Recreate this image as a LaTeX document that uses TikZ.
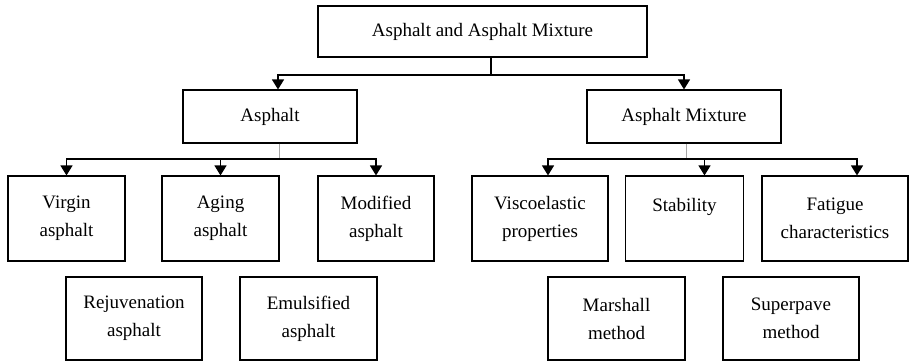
\documentclass[tikz,border=0pt]{standalone}
\usepackage{fontspec}
\setmainfont{Liberation Serif}
\usetikzlibrary{arrows.meta,positioning}
\tikzstyle{arrow} = [line width=1.2pt,-{Triangle[width=12pt,length=10pt]}]
\tikzstyle{line}  = [line width=1.2pt]
\tikzstyle{stem}  = [line width=0.8pt,gray!70]
\tikzset{
	box/.style={draw, line width=1.1pt, align=center, inner sep=0pt,
		font=\fontsize{19}{28}\selectfont},
	leaf/.style={box, minimum height=85},
	extra/.style={box, minimum height=83},
}

\begin{document}
\begin{tikzpicture}[x=1pt,y=-1pt]
        \useasboundingbox (0,0) rectangle (909,361);

        \node[box, minimum width=329, minimum height=51] (whole) at (482.5,31.5) {Asphalt and Asphalt Mixture};

        \node[box, minimum width=174, minimum height=53] (asph) at (270,116.5) {Asphalt};
        \node[box, minimum width=194, minimum height=53] (mix) at (684,116.5) {Asphalt Mixture};

        \node[leaf, minimum width=117] (virgin) at (66.5,218.5) {Virgin\\asphalt};
        \node[leaf, minimum width=117] (aging) at (220.5,218.5) {Aging\\asphalt};
        \node[leaf, minimum width=116] (modified) at (376,218.5) {Modified\\asphalt};
        \node[leaf, minimum width=136] (visco) at (540,218.5) {Viscoelastic\\properties};
        \node[leaf, minimum width=118] (stab) at (684.5,218.5) {Stability\\\mbox{}};
        \node[leaf, minimum width=146] (fatigue) at (835,218.5) {Fatigue\\characteristics};

        \node[extra, minimum width=136] (rejuv) at (134,318.5) {Rejuvenation\\asphalt};
        \node[extra, minimum width=137] (emuls) at (308.5,318.5) {Emulsified\\asphalt};
        \node[extra, minimum width=137] (marshall) at (616.5,318.5) {Marshall\\method};
        \node[extra, minimum width=136] (superpave) at (791,318.5) {Superpave\\method};

        \coordinate (wholejoint) at (491,75);
        \draw[line] ([xshift=8.5]whole.south) -- (wholejoint);
        \draw[arrow] (wholejoint) -| ([xshift=8]asph.north);
        \draw[arrow] (wholejoint) -| (mix.north);

        \coordinate (asphjoint) at (279,159);
        \draw[stem] ([xshift=9]asph.south) -- (asphjoint);
        \draw[arrow] (asphjoint) -| (virgin.north);
        \draw[arrow] (asphjoint) -| (aging.north);
        \draw[arrow] (asphjoint) -| (modified.north);

        \coordinate (mixjoint) at (686,159);
        \draw[stem] ([xshift=2]mix.south) -- (mixjoint);
        \draw[arrow] (mixjoint) -| ([xshift=8]visco.north);
        \draw[arrow] (mixjoint) -| ([xshift=20]stab.north);
        \draw[arrow] (mixjoint) -| ([xshift=22]fatigue.north);
    \end{tikzpicture}
\end{document}
